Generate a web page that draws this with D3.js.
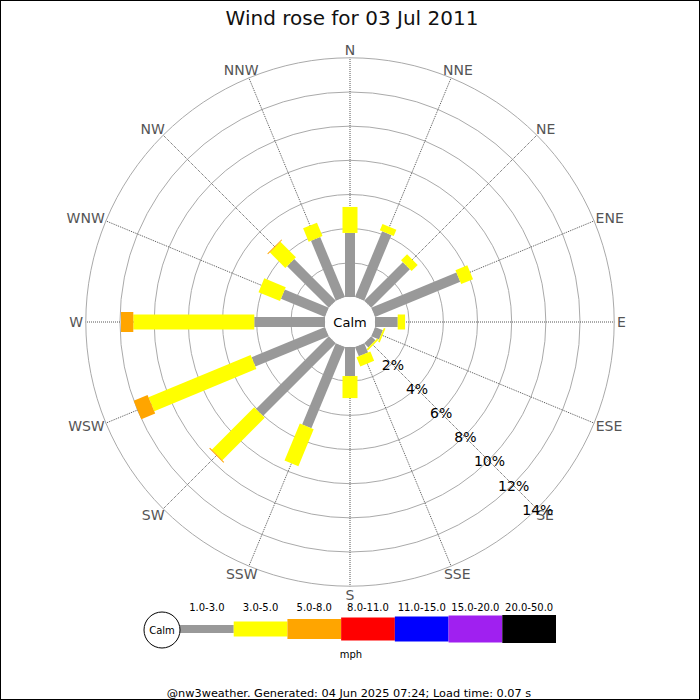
<!DOCTYPE html>
<html>
<head>
<meta charset="utf-8">
<script src="https://cdn.jsdelivr.net/npm/d3@7"></script>
<style>
  html, body { margin: 0; padding: 0; background: #fff; }
  svg { display: block; font-family: "DejaVu Sans", sans-serif; }
</style>
</head>
<body>
<svg id="chart" width="700" height="700"></svg>
<script>
// ---- Data ----
const title = "Wind rose for 03 Jul 2011";
const directions = ["N","NNE","NE","ENE","E","ESE","SE","SSE","S","SSW","SW","WSW","W","WNW","NW","NNW"];
const speedBins = ["1.0-3.0","3.0-5.0","5.0-8.0","8.0-11.0","11.0-15.0","15.0-20.0","20.0-50.0"];
const binColors = ["#999999","#ffff00","#ffa500","#ff0000","#0000ff","#a020f0","#000000"];
// percentage of time per direction for each speed bin (mph)
const bin1to3   = [3.75,4.16,3.20,5.40,1.33,0.50,0.35,0.59,1.70,5.15,6.03,4.65,4.14,2.79,3.45,3.80];
const bin3to5   = [1.52,0.41,0.50,0.75,0.43,0.10,0.10,0.58,1.29,2.34,3.51,6.47,7.08,1.36,1.29,0.85];
const bin5to8   = [0,0,0,0,0,0,0,0,0,0,0.06,0.88,0.72,0,0.05,0];
const bin8to11  = [0,0,0,0,0,0,0,0,0,0,0,0,0,0,0,0];
const bin11to15 = [0,0,0,0,0,0,0,0,0,0,0,0,0,0,0,0];
const bin15to20 = [0,0,0,0,0,0,0,0,0,0,0,0,0,0,0,0];
const bin20to50 = [0,0,0,0,0,0,0,0,0,0,0,0,0,0,0,0];
const ringTicks = [2,4,6,8,10,12,14];
const unitLabel = "mph";
const footer = "@nw3weather. Generated: 04 Jun 2025 07:24; Load time: 0.07 s";

const series = [bin1to3,bin3to5,bin5to8,bin8to11,bin11to15,bin15to20,bin20to50];

// ---- Layout ----
const cx = 350, cy = 322;
const calmR = 25;
const barWidths = [10,15,20,23,25,27,28];
const legendHeights = [8,15,20,23,25,27,28];

const svg = d3.select("#chart");
svg.append("rect").attr("x",0.5).attr("y",0.5).attr("width",699).attr("height",699)
  .attr("fill","#fff").attr("stroke","#000");

const r = d3.scaleLinear().domain([0,14]).range([calmR, 264.2]);
const angle = d3.scalePoint().domain(directions.concat(["_"])).range([0,360]);
const rad = d => angle(d)*Math.PI/180;

const g = svg.append("g").attr("transform",`translate(${cx},${cy})`);

// rings
g.selectAll("circle.ring").data(ringTicks).join("circle")
  .attr("class","ring").attr("r",d=>r(d))
  .attr("fill","none").attr("stroke","#aaaaaa").attr("stroke-width",1);

// spokes
g.selectAll("line.spoke").data(directions).join("line")
  .attr("class","spoke")
  .attr("x1",0).attr("y1",0)
  .attr("x2",d=>r(14)*Math.sin(rad(d)))
  .attr("y2",d=>-r(14)*Math.cos(rad(d)))
  .attr("stroke","#555").attr("stroke-width",1).attr("stroke-dasharray","1,1");

// direction labels (anchored just outside the outer ring, offset by half their size)
const labR = 267, labH = 11;
g.selectAll("text.dir").data(directions).join("text")
  .attr("class","dir")
  .attr("text-anchor","middle").attr("dominant-baseline","central")
  .attr("font-size",14).attr("fill","#555")
  .text(d=>d)
  .each(function(d){
    const w = this.getComputedTextLength();
    const s = Math.sin(rad(d)), c = Math.cos(rad(d));
    d3.select(this)
      .attr("x", labR*s + s*w/2)
      .attr("y", -labR*c - c*labH/2);
  });

// bars
const stacked = directions.map((dir,i)=>{
  let acc = 0;
  return series.map((s,k)=>{
    const seg = {dir, k, start: acc, end: acc + s[i]};
    acc += s[i];
    return seg;
  }).filter(d=>d.end>d.start);
});
const barG = g.selectAll("g.dirbar").data(stacked).join("g")
  .attr("class","dirbar")
  .attr("transform",d=>`rotate(${angle(d[0] ? d[0].dir : "N")})`);
barG.selectAll("rect").data(d=>d).join("rect")
  .attr("x",d=>-barWidths[d.k]/2)
  .attr("width",d=>barWidths[d.k])
  .attr("y",d=>-r(d.end))
  .attr("height",d=>r(d.end)-r(d.start))
  .attr("fill",d=>binColors[d.k]);

// calm circle
g.append("circle").attr("r",calmR).attr("fill","#fff");
g.append("text").attr("x",0).attr("y",0).attr("text-anchor","middle")
  .attr("dominant-baseline","central").attr("font-size",13).attr("fill","#000").text("Calm");

// ring labels along SE
g.selectAll("text.ringlab").data(ringTicks).join("text")
  .attr("class","ringlab")
  .attr("x",d=>r(d)*Math.SQRT1_2+1)
  .attr("y",d=>r(d)*Math.SQRT1_2+1)
  .attr("text-anchor","middle").attr("dominant-baseline","central")
  .attr("font-size",14).attr("fill","#000")
  .text(d=>d+"%");

// title
svg.append("text").attr("x",352).attr("y",25).attr("text-anchor","middle")
  .attr("font-size",20).attr("fill","#111").text(title);

// legend
const lx = d3.scaleBand().domain(speedBins).range([180,556]).padding(0);
const ly = 629;
svg.selectAll("rect.leg").data(speedBins).join("rect")
  .attr("class","leg")
  .attr("x",d=>lx(d)).attr("width",lx.bandwidth())
  .attr("y",(d,i)=>ly-legendHeights[i]/2).attr("height",(d,i)=>legendHeights[i])
  .attr("fill",(d,i)=>binColors[i]);
svg.selectAll("text.leg").data(speedBins).join("text")
  .attr("class","leg")
  .attr("x",d=>lx(d)+lx.bandwidth()/2).attr("y",611)
  .attr("text-anchor","middle").attr("font-size",10).attr("fill","#000").text(d=>d);
svg.append("circle").attr("cx",162).attr("cy",630).attr("r",18)
  .attr("fill","#fff").attr("stroke","#000");
svg.append("text").attr("x",162).attr("y",630).attr("text-anchor","middle")
  .attr("dominant-baseline","central").attr("font-size",10).text("Calm");
svg.append("text").attr("x",351).attr("y",658).attr("text-anchor","middle")
  .attr("font-size",10).text(unitLabel);

// footer
svg.append("text").attr("x",349).attr("y",697).attr("text-anchor","middle")
  .attr("font-size",11.3).attr("fill","#000").text(footer);
</script>
</body>
</html>
